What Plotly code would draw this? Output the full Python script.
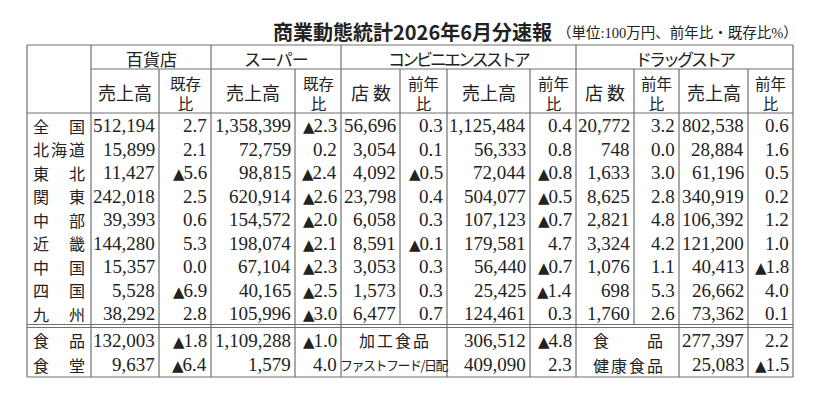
import plotly.graph_objects as go

# 商業動態統計 2026年6月分速報 (単位:100万円、前年比・既存比%)
regions = ["全　国", "北海道", "東　北", "関　東", "中　部", "近　畿", "中　国", "四　国", "九　州"]

dept_sales = [512194, 15899, 11427, 242018, 39393, 144280, 15357, 5528, 38292]
dept_yoy = [2.7, 2.1, -5.6, 2.5, 0.6, 5.3, 0.0, -6.9, 2.8]
super_sales = [1358399, 72759, 98815, 620914, 154572, 198074, 67104, 40165, 105996]
super_yoy = [-2.3, 0.2, -2.4, -2.6, -2.0, -2.1, -2.3, -2.5, -3.0]
cvs_stores = [56696, 3054, 4092, 23798, 6058, 8591, 3053, 1573, 6477]
cvs_stores_yoy = [0.3, 0.1, -0.5, 0.4, 0.3, -0.1, 0.3, 0.3, 0.7]
cvs_sales = [1125484, 56333, 72044, 504077, 107123, 179581, 56440, 25425, 124461]
cvs_sales_yoy = [0.4, 0.8, -0.8, -0.5, -0.7, 4.7, -0.7, -1.4, 0.3]
drug_stores = [20772, 748, 1633, 8625, 2821, 3324, 1076, 698, 1760]
drug_stores_yoy = [3.2, 0.0, 3.0, 2.8, 4.8, 4.2, 1.1, 5.3, 2.6]
drug_sales = [802538, 28884, 61196, 340919, 106392, 121200, 40413, 26662, 73362]
drug_sales_yoy = [0.6, 1.6, 0.5, 0.2, 1.2, 1.0, -1.8, 4.0, 0.1]

# 商品別
goods = ["食　品", "食　堂"]
dept_goods_sales = [132003, 9637]
dept_goods_yoy = [-1.8, -6.4]
super_goods_sales = [1109288, 1579]
super_goods_yoy = [-1.0, 4.0]
cvs_goods = ["加工食品", "ファストフード/日配"]
cvs_goods_sales = [306512, 409090]
cvs_goods_yoy = [-4.8, 2.3]
drug_goods = ["食　　品", "健康食品"]
drug_goods_sales = [277397, 25083]
drug_goods_yoy = [2.2, -1.5]

groups = ["百貨店", "スーパー", "コンビニエンスストア", "ドラッグストア"]
sub_heads = ["売上高", "既存\n比", "売上高", "既存\n比", "店 数", "前年\n比",
             "売上高", "前年\n比", "店 数", "前年\n比", "売上高", "前年\n比"]

# layout (pixels)
xs = [27, 91, 159, 211, 295, 341, 400, 447, 530, 576, 634, 679, 748, 793]
group_cols = [(1, 3), (3, 5), (5, 9), (9, 13)]
y_top, y_h1, y_h2 = 45, 69, 113
row_h = 23.5
y_dbl = y_h2 + row_h * len(regions)
row_h2 = 24.5
y_goods = y_dbl + 3.5
y_bot = y_goods + row_h2 * len(goods)

LINE = "#707070"
INK = "#222222"
NUM_FONT = "Liberation Serif, Noto Sans CJK JP"
JP_FONT = "Noto Sans CJK JP"

fig = go.Figure()


def fmt_int(v):
    return f"{v:,}"


def fmt_pct(v):
    if v < 0:
        return ('<span style="font-family:DejaVu Sans;font-size:15px;letter-spacing:-1px">▲</span>'
                + f"{abs(v):.1f}")
    return f"{v:.1f}"


def spaced(s, px):
    return f'<span style="letter-spacing:{px}px">{s}</span>'


def hline(x0, x1, y):
    fig.add_shape(type="line", x0=x0, x1=x1, y0=y, y1=y, line=dict(color=LINE, width=1.2))


def vline(x, y0, y1):
    fig.add_shape(type="line", x0=x, x1=x, y0=y0, y1=y1, line=dict(color=LINE, width=1.2))


def text(x, y, s, anchor="center", size=19, family=NUM_FONT, **kw):
    fig.add_annotation(x=x, y=y, text=s, showarrow=False, xanchor=anchor, yanchor="middle",
                       font=dict(family=family, size=size, color=INK), borderpad=0, **kw)


# frame and grid
hline(xs[0], xs[-1], y_top)
hline(xs[1], xs[-1], y_h1)
hline(xs[0], xs[-1], y_h2)
hline(xs[0], xs[-1], y_dbl)
hline(xs[0], xs[-1], y_dbl + 3)
hline(xs[0], xs[-1], y_bot)
for i in [0, 1, 3, 5, 9, 13]:
    vline(xs[i], y_top, y_bot)
for i in [2, 4, 7, 8, 11, 12]:
    vline(xs[i], y_h1, y_bot)
for i in [6, 10]:
    vline(xs[i], y_h1, y_dbl)

# title
text(272, 31.5, "<b>商業動態統計2026年6月分速報</b>", anchor="left", size=20, family=JP_FONT)
text(556, 33, "（単位:100万円、前年比・既存比%）", anchor="left", size=14.5, family=NUM_FONT)

# headers
for g, (a, b) in zip(groups, group_cols):
    ls = 0 if len(g) <= 3 else (-1 if len(g) == 4 else -3)
    text((xs[a] + xs[b]) / 2, y_top + 13.5, spaced(g, ls), size=17, family=JP_FONT)
for i, h in enumerate(sub_heads):
    cx = (xs[i + 1] + xs[i + 2]) / 2
    if "\n" in h:
        text(cx, (y_h1 + y_h2) / 2 + 1.5, h.replace("\n", "<br>"), size=15.5, family=JP_FONT)
    else:
        text(cx, (y_h1 + y_h2) / 2 + 1, h, size=18, family=JP_FONT)

# regional rows
cols = [dept_sales, dept_yoy, super_sales, super_yoy, cvs_stores, cvs_stores_yoy,
        cvs_sales, cvs_sales_yoy, drug_stores, drug_stores_yoy, drug_sales, drug_sales_yoy]
for r, name in enumerate(regions):
    cy = y_h2 + row_h * (r + 0.5) + 1
    text((xs[0] + xs[1]) / 2 + 1, cy, spaced(name, 2), size=16, family=JP_FONT)
    for c, col in enumerate(cols):
        v = col[r]
        s = fmt_pct(v) if isinstance(v, float) else fmt_int(v)
        text(xs[c + 2] - 3, cy, s, anchor="right")

# goods rows
for r in range(len(goods)):
    cy = y_goods + row_h2 * (r + 0.5)
    text((xs[0] + xs[1]) / 2 + 1, cy, spaced(goods[r], 2), size=16, family=JP_FONT)
    text(xs[2] - 3, cy, fmt_int(dept_goods_sales[r]), anchor="right")
    text(xs[3] - 3, cy, fmt_pct(dept_goods_yoy[r]), anchor="right")
    text(xs[4] - 3, cy, fmt_int(super_goods_sales[r]), anchor="right")
    text(xs[5] - 3, cy, fmt_pct(super_goods_yoy[r]), anchor="right")
    lab = cvs_goods[r]
    if len(lab) > 5:
        text((xs[5] + xs[7]) / 2, cy, spaced(lab, -1.5), size=13, family=JP_FONT)
    else:
        text((xs[5] + xs[7]) / 2 + 1, cy, spaced(lab, 2), size=16, family=JP_FONT)
    text(xs[8] - 3, cy, fmt_int(cvs_goods_sales[r]), anchor="right")
    text(xs[9] - 3, cy, fmt_pct(cvs_goods_yoy[r]), anchor="right")
    text((xs[9] + xs[11]) / 2 + 1, cy, spaced(drug_goods[r], 2), size=16, family=JP_FONT)
    text(xs[12] - 3, cy, fmt_int(drug_goods_sales[r]), anchor="right")
    text(xs[13] - 3, cy, fmt_pct(drug_goods_yoy[r]), anchor="right")

fig.update_layout(
    width=820, height=400,
    margin=dict(l=0, r=0, t=0, b=0),
    paper_bgcolor="white", plot_bgcolor="white",
    xaxis=dict(range=[0, 820], visible=False, fixedrange=True),
    yaxis=dict(range=[400, 0], visible=False, fixedrange=True),
    showlegend=False,
)

# page body has a default margin; drop it so the figure sits at the window's corner
fig.write_html("out.html", config={"displayModeBar": False},
               post_script="document.body.style.margin='0';")
